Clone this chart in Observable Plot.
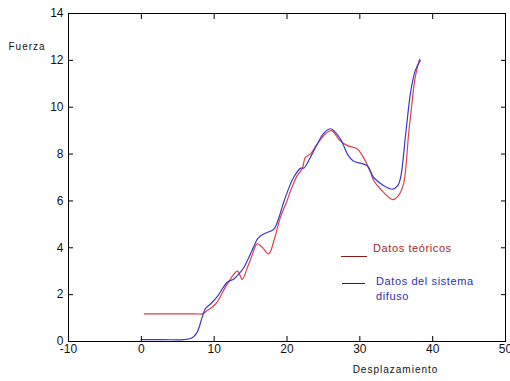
<!DOCTYPE html>
<html><head><meta charset="utf-8">
<script src="https://cdn.jsdelivr.net/npm/d3@7"></script>
<script src="https://cdn.jsdelivr.net/npm/@observablehq/plot@0.6"></script>
<style>
body{margin:0;background:#fff}
#chart{position:relative;width:510px;height:381px;font-family:"Liberation Sans",Arial,sans-serif}
.lg{position:absolute;font-size:11px;letter-spacing:0.6px;line-height:15px}
.sw{position:absolute;height:0;border-top:1px solid}
</style>
</head><body><div id="chart"></div>
<script>
// Datos teóricos (red)
const teoricoX = [0.4, 4.0, 7.6, 8.36, 9.04, 10.2, 11.8, 13.2, 13.85, 14.5, 15.2, 15.9, 16.6, 17.5, 18.2, 19.1, 20.0, 20.5, 21.4, 22.1, 22.5, 23.2, 24.2, 25.3, 26.1, 27.3, 28.3, 29.6, 30.5, 31.5, 31.9, 32.8, 34.5, 35.3, 36.0, 36.7, 37.2, 37.6, 38.2];
const teoricoY = [1.18, 1.18, 1.18, 1.18, 1.32, 1.6, 2.45, 3.0, 2.65, 3.1, 3.67, 4.17, 4.02, 3.74, 4.3, 5.3, 6.0, 6.44, 7.08, 7.38, 7.85, 8.0, 8.45, 8.87, 9.0, 8.57, 8.36, 8.23, 7.86, 7.2, 6.87, 6.52, 6.06, 6.23, 6.73, 8.87, 10.3, 11.27, 12.05];
// Datos del sistema difuso (blue)
const difusoX = [0, 3.0, 5.8, 7.0, 7.67, 8.36, 8.8, 9.5, 10.4, 11.8, 12.7, 13.6, 14.1, 15.4, 16.0, 16.8, 18.2, 18.9, 19.6, 20.9, 21.9, 22.3, 23.2, 24.2, 25.0, 26.0, 27.3, 28.3, 29.1, 31.0, 31.9, 33.3, 34.5, 35.2, 35.6, 36.3, 37.0, 37.6, 38.3];
const difusoY = [0.08, 0.08, 0.08, 0.16, 0.4, 1.04, 1.4, 1.6, 1.9, 2.53, 2.67, 2.96, 3.17, 4.02, 4.4, 4.59, 4.8, 5.3, 6.0, 7.0, 7.4, 7.4, 7.85, 8.45, 8.87, 9.08, 8.66, 8.0, 7.7, 7.5, 7.0, 6.65, 6.5, 6.65, 7.0, 8.87, 10.7, 11.55, 12.0];
const xTicks = [-10, 0, 10, 20, 30, 40, 50];
const yTicks = [0, 2, 4, 6, 8, 10, 12, 14];
const xLabel = "Desplazamiento";
const yLabel = "Fuerza";
const serieNames = ["Datos teóricos", "Datos del sistema difuso"];

const teorico = teoricoX.map((x, i) => ({x, y: teoricoY[i]}));
const difuso = difusoX.map((x, i) => ({x, y: difusoY[i]}));

const W = 510, H = 381, mT = 13, mR = 5, mB = 40, mL = 68, tk = 5;
const blank = () => "";
const plot = Plot.plot({
  width: W, height: H,
  marginTop: mT, marginRight: mR, marginBottom: mB, marginLeft: mL,
  style: {fontFamily: "Liberation Sans, Arial, sans-serif", fontSize: "12px", color: "#111", background: "#fff"},
  x: {domain: [-10, 50], label: null},
  y: {domain: [0, 14], label: null},
  marks: [
    Plot.line(teorico, {x: "x", y: "y", stroke: "#e0404a", strokeWidth: 1.2, curve: "catmull-rom"}),
    Plot.line(difuso, {x: "x", y: "y", stroke: "#3a3ac8", strokeWidth: 1.2, curve: "catmull-rom"}),
    Plot.axisX(xTicks, {anchor: "bottom", tickSize: 0, tickPadding: 3, label: null, tickFormat: d => String(d)}),
    Plot.axisY(yTicks, {anchor: "left", tickSize: 0, tickPadding: 5, label: null, tickFormat: d => String(d)}),
    // inward ticks on all four sides (MATLAB-style box)
    Plot.axisX(xTicks, {anchor: "bottom", tickSize: tk, dy: -tk, tickFormat: blank, label: null, stroke: "#000", strokeOpacity: 1}),
    Plot.axisX(xTicks, {anchor: "top", tickSize: tk, dy: tk, tickFormat: blank, label: null, stroke: "#000", strokeOpacity: 1}),
    Plot.axisY(yTicks, {anchor: "left", tickSize: tk, dx: tk, tickFormat: blank, label: null, stroke: "#000", strokeOpacity: 1}),
    Plot.axisY(yTicks, {anchor: "right", tickSize: tk, dx: -tk, tickFormat: blank, label: null, stroke: "#000", strokeOpacity: 1}),
    Plot.frame({stroke: "#000"}),
    Plot.text([yLabel], {frameAnchor: "top-left", dx: -60, dy: 29, textAnchor: "start", fontSize: 10, fill: "#111"}),
    Plot.text([xLabel], {frameAnchor: "bottom-right", dx: -110, dy: 31, textAnchor: "middle", fontSize: 10, fill: "#111"})
  ]
});
plot.querySelectorAll("text").forEach(t => { if (t.textContent === xLabel || t.textContent === yLabel) t.setAttribute("letter-spacing", "1"); });

const chart = document.getElementById("chart");
chart.appendChild(plot);

const legend = [
  {name: serieNames[0], lines: ["Datos teóricos"], color: "#8b1a1a", text: "#a0282a", swLeft: 341, swTop: 256, swW: 26, tLeft: 373, tTop: 241},
  {name: serieNames[1], lines: ["Datos del sistema", "difuso"], color: "#1a1aa0", text: "#3030a8", swLeft: 342, swTop: 283, swW: 23, tLeft: 376, tTop: 274}
];
for (const l of legend) {
  const sw = document.createElement("div");
  sw.className = "sw";
  sw.style.cssText = `left:${l.swLeft}px;top:${l.swTop}px;width:${l.swW}px;border-color:${l.color}`;
  chart.appendChild(sw);
  const t = document.createElement("div");
  t.className = "lg";
  t.style.cssText = `left:${l.tLeft}px;top:${l.tTop}px;color:${l.text}`;
  t.innerHTML = l.lines.join("<br>");
  chart.appendChild(t);
}
</script>
</body></html>
